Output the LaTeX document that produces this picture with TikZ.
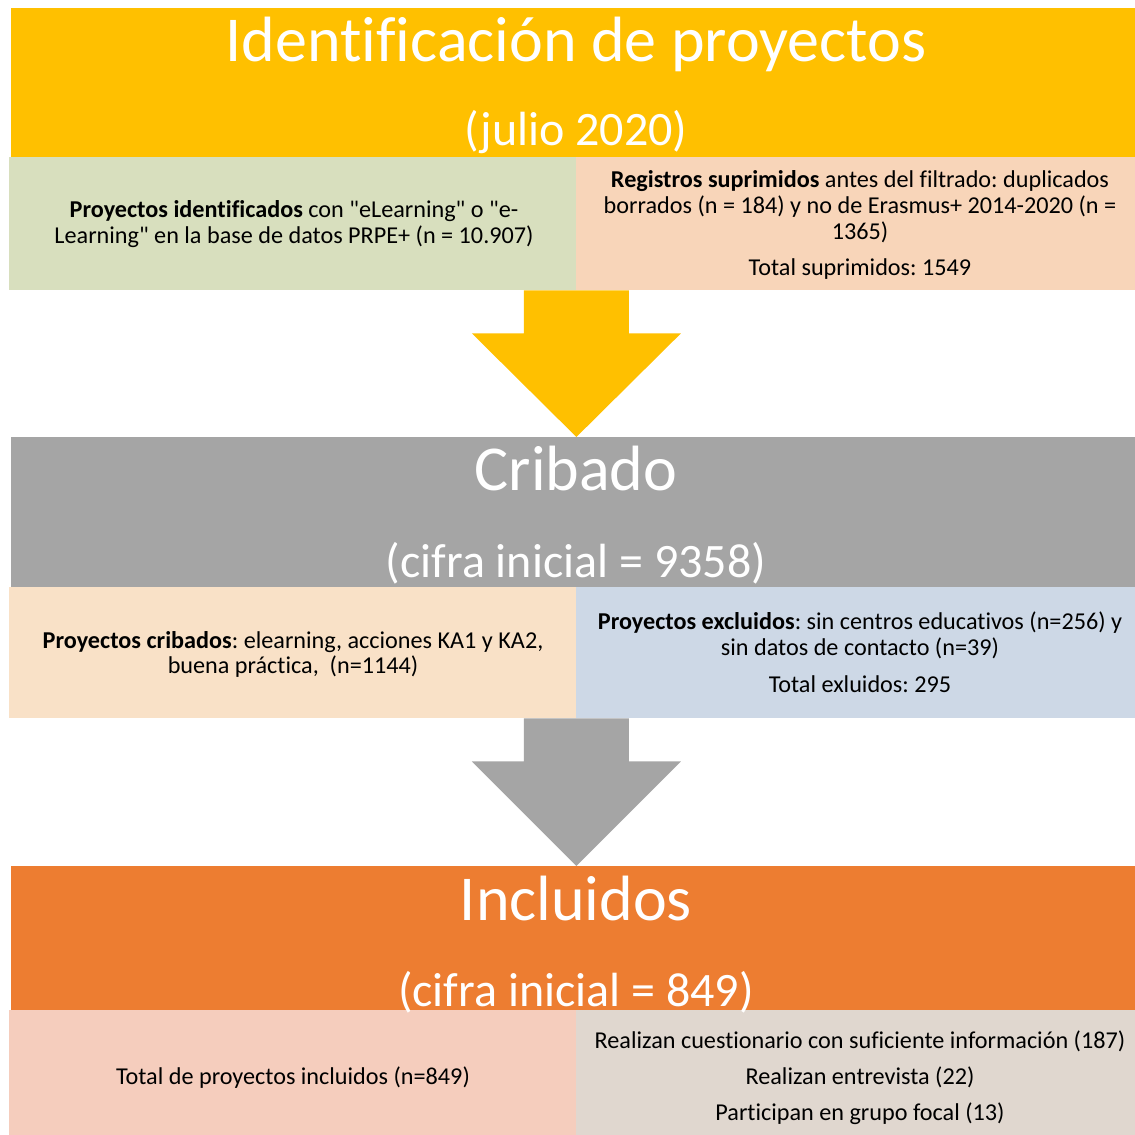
\documentclass[tikz,border=0pt]{standalone}
\usepackage{fontspec}
\setmainfont{Carlito}[Ligatures={TeXOff,CommonOff}]
\usetikzlibrary{calc}
\definecolor{amarillo}{HTML}{FFC000}
\definecolor{verdeclaro}{HTML}{D8DFBE}
\definecolor{melocoton}{HTML}{F8D5B9}
\definecolor{gris}{HTML}{A5A5A5}
\definecolor{crema}{HTML}{F9E1C7}
\definecolor{azulclaro}{HTML}{CDD8E6}
\definecolor{naranja}{HTML}{ED7D31}
\definecolor{rosa}{HTML}{F5CDBD}
\definecolor{piedra}{HTML}{E0D7CF}
\frenchspacing
\tikzset{
  etapa/.style={rectangle, inner sep=0pt, anchor=north west, minimum width=1124pt},
  cajaizq/.style={rectangle, inner sep=0pt, anchor=north west, minimum width=567pt},
  cajader/.style={rectangle, inner sep=0pt, anchor=north west, minimum width=559pt},
  titulo/.style={anchor=base, text=white, inner sep=0pt, font=\fontsize{64}{72}\selectfont},
  subtitulo/.style={anchor=base, text=white, inner sep=0pt, font=\fontsize{48}{56}\selectfont},
  texto/.style={anchor=base, inner sep=0pt, font=\fontsize{24.2}{26}\selectfont},
}
% flecha de bloque: color, borde de salida, etapa de llegada
\newcommand{\flecha}[3]{%
  \fill[#1] ($(#2)+(-52.5,0)$) -- ($(#2)+(52.5,0)$) -- ($(#2)+(52.5,43)$)
    -- ($(#2)+(104.5,43)$) -- (#2 |- #3.north) -- ($(#2)+(-104.5,43)$)
    -- ($(#2)+(-52.5,43)$) -- cycle;}
\begin{document}
\begin{tikzpicture}[x=1pt, y=-1pt]
\useasboundingbox[fill=white] (0,0) rectangle (1135,1135);
% etapa 1
\node[etapa, fill=amarillo, minimum height=149pt] (ident) at (11,8) {};
\node[cajaizq, fill=verdeclaro, minimum height=133pt] (ident-izq) at (9,157) {};
\node[cajader, fill=melocoton, minimum height=133pt] (ident-der) at (576,157) {};
\node[titulo] (ident-t1) at (576,61) {Identificación de proyectos};
\node[subtitulo] (ident-t2) at (576,145) {(julio 2020)};
\node[texto] (ident-a1) at (294,217) {\textbf{Proyectos identificados} con "eLearning" o "e-};
\node[texto] (ident-a2) at (294,243) {Learning" en la base de datos PRPE+ (n = 10.907)};
\node[texto] (ident-b1) at (860,187) {\textbf{Registros suprimidos} antes del filtrado: duplicados};
\node[texto] (ident-b2) at (860,213) {borrados (n = 184) y no de Erasmus+ 2014-2020 (n =};
\node[texto] (ident-b3) at (860,239) {1365)};
\node[texto] (ident-b4) at (860,275) {Total suprimidos: 1549};
% etapa 2
\node[etapa, fill=gris, minimum height=150pt] (crib) at (11,437) {};
\node[cajaizq, fill=crema, minimum height=131pt] (crib-izq) at (9,587) {};
\node[cajader, fill=azulclaro, minimum height=131pt] (crib-der) at (576,587) {};
\node[titulo] (crib-t1) at (576,490) {Cribado};
\node[subtitulo] (crib-t2) at (576,577) {(cifra inicial = 9358)};
\node[texto] (crib-a1) at (293,648) {\textbf{Proyectos cribados}: elearning, acciones KA1 y KA2,};
\node[texto] (crib-a2) at (293,673) {buena práctica,\ \ (n=1144)};
\node[texto] (crib-b1) at (860,629) {\textbf{Proyectos excluidos}: sin centros educativos (n=256) y};
\node[texto] (crib-b2) at (860,655) {sin datos de contacto (n=39)};
\node[texto] (crib-b3) at (860,692) {Total exluidos: 295};
% etapa 3
\node[etapa, fill=naranja, minimum height=144pt] (incl) at (11,866) {};
\node[cajaizq, fill=rosa, minimum height=125pt] (incl-izq) at (9,1010) {};
\node[cajader, fill=piedra, minimum height=125pt] (incl-der) at (576,1010) {};
\node[titulo] (incl-t1) at (576,920) {Incluidos};
\node[subtitulo] (incl-t2) at (576,1006) {(cifra inicial = 849)};
\node[texto] (incl-a1) at (293,1084) {Total de proyectos incluidos (n=849)};
\node[texto] (incl-b1) at (860,1048) {Realizan cuestionario con suficiente información (187)};
\node[texto] (incl-b2) at (860,1084) {Realizan entrevista (22)};
\node[texto] (incl-b3) at (860,1120) {Participan en grupo focal (13)};
% flechas
\flecha{amarillo}{ident-izq.south east}{crib}
\flecha{gris}{crib-izq.south east}{incl}
\end{tikzpicture}
\end{document}
